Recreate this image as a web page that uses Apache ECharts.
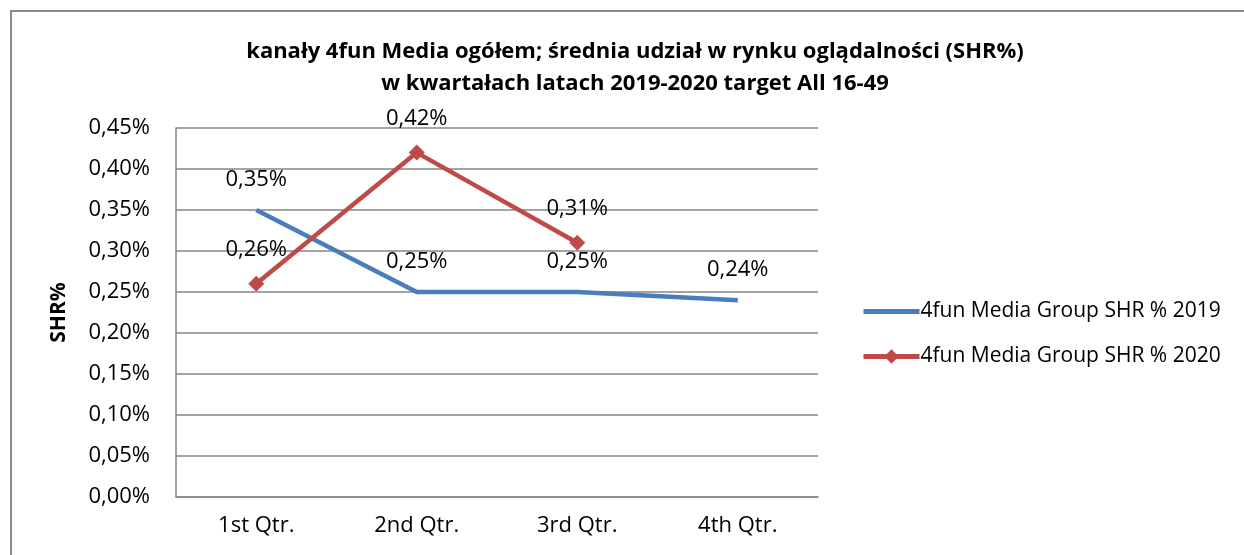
<!DOCTYPE html>
<html>
<head>
<meta charset="utf-8">
<script src="https://cdn.jsdelivr.net/npm/echarts@6/dist/echarts.min.js"></script>
<style>
    html, body { margin: 0; padding: 0; background: #fff; }
    #frame {
        position: absolute; left: 10px; top: 10px; width: 1300px; height: 600px;
        border-left: 2px solid #8c8c8c; border-top: 2px solid #8c8c8c;
    }
    #chart { position: absolute; left: 0; top: 0; width: 1244px; height: 555px; }
</style>
</head>
<body>
<div id="frame"></div>
<div id="chart"></div>
<script>
// chart data
const quarters = ['1st Qtr.', '2nd Qtr.', '3rd Qtr.', '4th Qtr.'];
const share2019 = [0.35, 0.25, 0.25, 0.24];
const share2020 = [0.26, 0.42, 0.31, null];
const seriesNames = ['4fun Media Group SHR % 2019', '4fun Media Group SHR % 2020'];

const fontFamily = '"Open Sans", "Noto Sans", sans-serif';
const pct = (v) => v.toFixed(2).replace('.', ',') + '%';

const chart = echarts.init(document.getElementById('chart'));

chart.setOption({
    animation: false,
    textStyle: { fontFamily: fontFamily, color: '#000' },
    title: {
        text: 'kanały 4fun Media ogółem; średnia udział w rynku oglądalności (SHR%)\nw kwartałach latach 2019-2020 target All 16-49',
        left: 630,
        textAlign: 'center',
        top: 31,
        textStyle: { fontSize: 22, fontWeight: 'bold', lineHeight: 32, fontFamily: fontFamily, color: '#000' }
    },
    legend: {
        orient: 'vertical',
        left: 856,
        top: 296,
        itemWidth: 56,
        itemHeight: 18,
        itemGap: 24,
        lineStyle: { width: 5 },
        textStyle: { fontSize: 21, fontFamily: fontFamily, color: '#000', padding: [0, 0, 0, -4] },
        data: [
            { name: seriesNames[0], itemStyle: { opacity: 0 } },
            { name: seriesNames[1] }
        ]
    },
    grid: {
        left: 176,
        top: 128,
        width: 642,
        height: 369,
        containLabel: false,
        outerBoundsMode: 'none'
    },
    xAxis: {
        type: 'category',
        data: quarters,
        boundaryGap: true,
        axisLine: { show: true, lineStyle: { color: '#868686', width: 1.5 } },
        axisTick: { show: false },
        axisLabel: { fontSize: 22, margin: 18, color: '#000', fontFamily: fontFamily }
    },
    yAxis: {
        type: 'value',
        min: 0,
        max: 0.45,
        interval: 0.05,
        name: 'SHR%',
        nameLocation: 'middle',
        nameGap: 106,
        nameRotate: 90,
        nameTextStyle: { fontSize: 21, fontWeight: 'bold', color: '#000', fontFamily: fontFamily },
        axisLine: { show: true, lineStyle: { color: '#868686', width: 1.5 } },
        axisTick: { show: false },
        splitLine: { show: true, lineStyle: { color: '#868686', width: 1.5 } },
        axisLabel: { fontSize: 22, margin: 26, color: '#000', fontFamily: fontFamily, formatter: (v) => pct(v) }
    },
    series: [
        {
            name: seriesNames[0],
            type: 'line',
            data: share2019,
            symbol: 'circle',
            symbolSize: 0,
            lineStyle: { color: '#4A7EBB', width: 4.5 },
            itemStyle: { color: '#4A7EBB' },
            label: {
                show: true,
                position: 'top',
                distance: 19,
                fontSize: 22,
                color: '#000',
                fontFamily: fontFamily,
                formatter: (p) => pct(p.value)
            }
        },
        {
            name: seriesNames[1],
            type: 'line',
            data: share2020,
            symbol: 'diamond',
            symbolSize: 16,
            lineStyle: { color: '#BE4B48', width: 4.5 },
            itemStyle: { color: '#BE4B48' },
            label: {
                show: true,
                position: 'top',
                distance: 15,
                fontSize: 22,
                color: '#000',
                fontFamily: fontFamily,
                formatter: (p) => pct(p.value)
            }
        }
    ]
});
</script>
</body>
</html>
